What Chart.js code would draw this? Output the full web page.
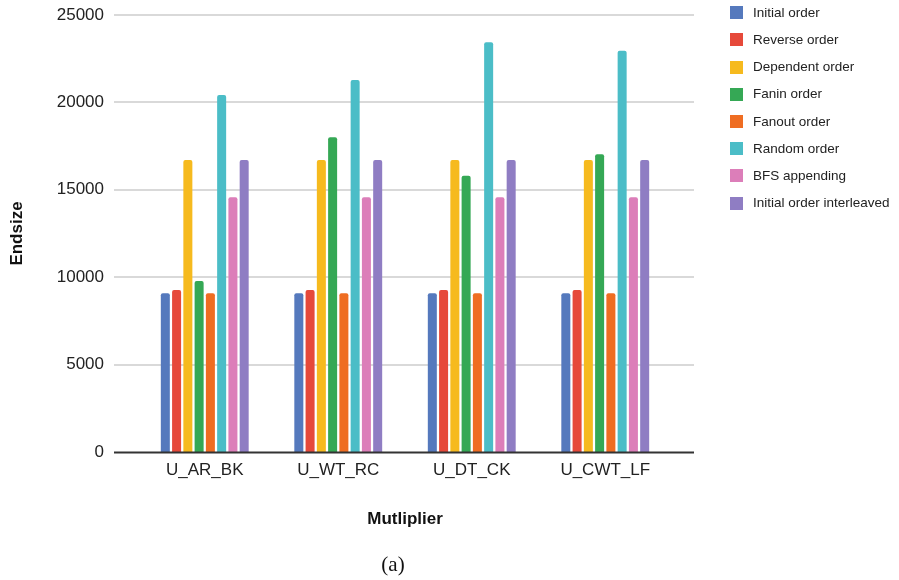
<!DOCTYPE html>
<html lang="en">
<head>
<meta charset="UTF-8">
<title>Endsize by multiplier</title>
<script src="https://cdn.jsdelivr.net/npm/chart.js"></script>
<style>
    body { margin: 0; background: #fff; }
    .wrap { position: relative; width: 899px; height: 580px; font-family: "Liberation Sans", Arial, sans-serif; }
    #legend { position: absolute; left: 730px; top: 0; margin: 0; padding: 0; list-style: none; }
    #legend li { position: absolute; left: 0; height: 16px; white-space: nowrap; font-size: 13.5px; color: #222; line-height: 16px; }
    #legend span.box { position: absolute; left: 0; top: 1.5px; width: 13px; height: 13px; }
    #legend span.txt { position: absolute; left: 23px; top: 0; }
    .caption { position: absolute; left: 0; width: 786px; top: 552px; text-align: center; font-family: "Liberation Serif", "DejaVu Serif", serif; font-size: 21px; color: #111; }
</style>
</head>
<body>
<div class="wrap">
    <canvas id="chart" width="899" height="580"></canvas>
    <ul id="legend"></ul>
    <div class="caption">(a)</div>
</div>
<script>
// categories on the x axis
const multipliers = ['U_AR_BK', 'U_WT_RC', 'U_DT_CK', 'U_CWT_LF'];

// one array per ordering
const initialOrder     = [9080, 9080, 9080, 9080];
const reverseOrder     = [9270, 9270, 9270, 9270];
const dependentOrder   = [16700, 16700, 16700, 16700];
const faninOrder       = [9780, 18010, 15800, 17030];
const fanoutOrder      = [9080, 9080, 9080, 9080];
const randomOrder      = [20420, 21280, 23440, 22960];
const bfsAppending     = [14570, 14570, 14570, 14570];
const initialInterleaved = [16700, 16700, 16700, 16700];

const seriesNames = ['Initial order', 'Reverse order', 'Dependent order', 'Fanin order',
    'Fanout order', 'Random order', 'BFS appending', 'Initial order interleaved'];
const seriesValues = [initialOrder, reverseOrder, dependentOrder, faninOrder,
    fanoutOrder, randomOrder, bfsAppending, initialInterleaved];
const seriesColors = ['#5579bd', '#e6493a', '#f6ba1e', '#35a855',
    '#ef6d22', '#4bbdc7', '#dc7eb9', '#8f7dc3'];

const yTicks = [0, 5000, 10000, 15000, 20000, 25000];

const FONT = '"Liberation Sans", Arial, sans-serif';

// grid lines run a bit past the plot area on both sides, like the original
const wideGrid = {
    id: 'wideGrid',
    beforeDatasetsDraw(chart) {
        const {ctx, chartArea, scales: {y}} = chart;
        ctx.save();
        ctx.strokeStyle = '#cccccc';
        ctx.lineWidth = 1.5;
        y.ticks.forEach(t => {
            if (t.value === 0) return;
            const py = Math.round(y.getPixelForValue(t.value));
            ctx.beginPath();
            ctx.moveTo(chartArea.left - 24, py);
            ctx.lineTo(chartArea.right + 22, py);
            ctx.stroke();
        });
        ctx.restore();
    },
    afterDatasetsDraw(chart) {
        const {ctx, chartArea, scales: {y}} = chart;
        const py = Math.round(y.getPixelForValue(0)) + 0.5;
        ctx.save();
        ctx.strokeStyle = '#333333';
        ctx.lineWidth = 2;
        ctx.beginPath();
        ctx.moveTo(chartArea.left - 24, py);
        ctx.lineTo(chartArea.right + 22, py);
        ctx.stroke();
        ctx.restore();
    }
};

const ctx = document.getElementById('chart').getContext('2d');
const chart = new Chart(ctx, {
    type: 'bar',
    data: {
        labels: multipliers,
        datasets: seriesNames.map((name, i) => ({
            label: name,
            data: seriesValues[i],
            backgroundColor: seriesColors[i],
            borderWidth: 0,
            borderRadius: 2,
            borderSkipped: 'start',
            barPercentage: 0.8,
            categoryPercentage: 0.675
        }))
    },
    options: {
        responsive: false,
        animation: false,
        layout: { padding: { top: 15, right: 227, bottom: 48, left: 0 } },
        plugins: {
            legend: { display: false },
            tooltip: { enabled: false }
        },
        scales: {
            x: {
                grid: { display: false, drawTicks: false },
                border: { display: false },
                ticks: { padding: 8, color: '#222', font: { family: FONT, size: 17 } },
                title: {
                    display: true,
                    text: 'Mutliplier',
                    color: '#111',
                    padding: { top: 0, bottom: 2 },
                    font: { family: FONT, size: 17, weight: 'bold' }
                },
                afterFit(scale) { scale.height = 80; }
            },
            y: {
                min: 0,
                max: 25000,
                afterBuildTicks(scale) { scale.ticks = yTicks.map(v => ({ value: v })); },
                grid: { display: false, drawTicks: true, tickLength: 30 },
                border: { display: false },
                ticks: {
                    padding: 4,
                    color: '#222',
                    font: { family: FONT, size: 17 },
                    callback: v => String(v)
                },
                title: {
                    display: true,
                    text: 'Endsize',
                    color: '#111',
                    padding: { top: 7, bottom: 0 },
                    font: { family: FONT, size: 17, weight: 'bold' }
                },
                afterFit(scale) { scale.width = 138; }
            }
        }
    },
    plugins: [wideGrid]
});

// legend built from the chart's datasets
const legendEl = document.getElementById('legend');
chart.data.datasets.forEach((ds, i) => {
    const li = document.createElement('li');
    li.style.top = (12.7 + i * 27.2 - 8) + 'px';
    li.innerHTML = '<span class="box" style="background:' + ds.backgroundColor + '"></span><span class="txt"></span>';
    li.querySelector('.txt').textContent = ds.label;
    legendEl.appendChild(li);
});
</script>
</body>
</html>
